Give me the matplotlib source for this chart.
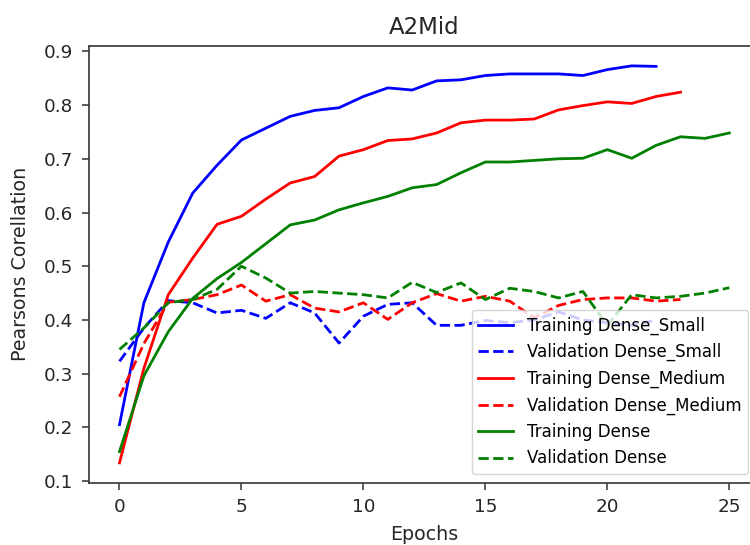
import matplotlib
matplotlib.use("Agg")
import matplotlib.pyplot as plt

title = "A2Mid"
xlabel = "Epochs"
ylabel = "Pearsons Corellation"

train_small = [0.205, 0.432, 0.545, 0.636, 0.688, 0.735, 0.757, 0.779, 0.790, 0.795,
               0.816, 0.832, 0.828, 0.845, 0.847, 0.855, 0.858, 0.858, 0.858, 0.855,
               0.866, 0.873, 0.872]
val_small = [0.323, 0.385, 0.436, 0.432, 0.413, 0.418, 0.403, 0.432, 0.413, 0.357,
             0.407, 0.429, 0.432, 0.390, 0.390, 0.399, 0.395, 0.400, 0.415, 0.400,
             0.395, 0.390, 0.400]
train_medium = [0.134, 0.310, 0.447, 0.515, 0.578, 0.593, 0.625, 0.655, 0.667, 0.705,
                0.717, 0.734, 0.737, 0.748, 0.767, 0.772, 0.772, 0.774, 0.791, 0.799,
                0.806, 0.803, 0.816, 0.824]
val_medium = [0.257, 0.356, 0.433, 0.438, 0.447, 0.465, 0.435, 0.447, 0.422, 0.415,
              0.432, 0.401, 0.432, 0.449, 0.435, 0.444, 0.435, 0.404, 0.427, 0.438,
              0.441, 0.441, 0.435, 0.438]
train_dense = [0.155, 0.296, 0.378, 0.440, 0.477, 0.507, 0.542, 0.577, 0.586, 0.605,
               0.618, 0.630, 0.646, 0.652, 0.674, 0.694, 0.694, 0.697, 0.700, 0.701,
               0.717, 0.701, 0.725, 0.741, 0.738, 0.748]
val_dense = [0.345, 0.385, 0.432, 0.438, 0.457, 0.500, 0.478, 0.450, 0.453, 0.450,
             0.447, 0.441, 0.470, 0.451, 0.469, 0.438, 0.459, 0.453, 0.441, 0.453,
             0.390, 0.447, 0.441, 0.444, 0.450, 0.460]

series = [
    (train_small, "b", "-", "Training Dense_Small"),
    (val_small, "b", "--", "Validation Dense_Small"),
    (train_medium, "r", "-", "Training Dense_Medium"),
    (val_medium, "r", "--", "Validation Dense_Medium"),
    (train_dense, "g", "-", "Training Dense"),
    (val_dense, "g", "--", "Validation Dense"),
]

W, H = 750, 545
fig = plt.figure(figsize=(W / 100, H / 100), dpi=100)
left, right, top, bottom = 89, 759.8, 46, 482.7
ax = fig.add_axes([left / W, 1 - bottom / H, (right - left) / W, (bottom - top) / H])

for vals, c, ls, lab in series:
    ax.plot(range(len(vals)), vals, color=c, linestyle=ls, linewidth=2.0, label=lab)

ax.set_xticks([0, 5, 10, 15, 20, 25])
ax.set_yticks([0.1, 0.2, 0.3, 0.4, 0.5, 0.6, 0.7, 0.8, 0.9])
ax.tick_params(labelsize=13.2, length=5.0, width=1.1, pad=6.2,
               colors="#333333", labelcolor="#262626")
for s in ax.spines.values():
    s.set_linewidth(1.2)
    s.set_color("#333333")

ax.set_title(title, fontsize=16.5, color="#262626", pad=9)
ax.set_xlabel(xlabel, fontsize=13.7, color="#262626", labelpad=6.5)
ax.set_ylabel(ylabel, fontsize=13.7, color="#262626", labelpad=10)

leg = ax.legend(loc="lower right", bbox_to_anchor=(748 / W, 1 - 474 / H),
                bbox_transform=fig.transFigure, fontsize=12, handlelength=2.1,
                borderaxespad=0)

fig.savefig("out.png", dpi=100)
